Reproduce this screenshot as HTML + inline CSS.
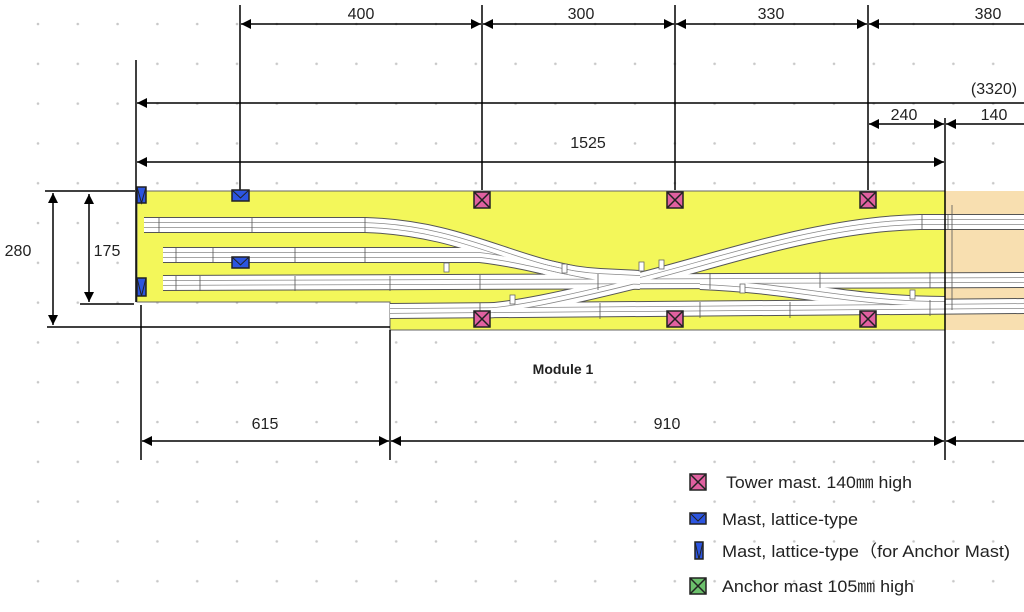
<!DOCTYPE html>
<html><head><meta charset="utf-8"><style>
html,body{margin:0;padding:0;background:#fff;}
svg{display:block;}
text{font-family:"Liberation Sans","Noto Sans CJK JP",sans-serif;fill:#222;}
</style></head><body>
<svg width="1024" height="612" viewBox="0 0 1024 612" xmlns="http://www.w3.org/2000/svg">
<defs>
<pattern id="dots" x="38" y="24" width="39.8" height="39.8" patternUnits="userSpaceOnUse">
<circle cx="0" cy="0" r="1.3" fill="#c8c8c8"/><circle cx="39.8" cy="0" r="1.3" fill="#c8c8c8"/><circle cx="0" cy="39.8" r="1.3" fill="#c8c8c8"/><circle cx="39.8" cy="39.8" r="1.3" fill="#c8c8c8"/>
</pattern>
<marker id="ah" viewBox="0 0 10 10" refX="10" refY="5" markerWidth="10" markerHeight="10" orient="auto-start-reverse" markerUnits="userSpaceOnUse"><path d="M0,0 L10,5 L0,10 z" fill="#000"/></marker>
</defs>
<rect width="1024" height="612" fill="#fff"/>
<rect width="1024" height="612" fill="url(#dots)"/>

<!-- board -->
<path d="M137,191 L945,191 L945,330 L390,330 L390,302 L137,302 Z" fill="#f3f75a" stroke="#666" stroke-width="1"/>
<rect x="945" y="191" width="79" height="139" fill="#f8dfb0"/>

<!-- tracks -->
<g fill="none" stroke-linecap="butt">
<g stroke="#555" stroke-width="16">
<path d="M144,225 L365,225 C470,228 520,272 600,276 L640,278"/>
<path d="M163,255 L365,255 L480,255 C540,262 580,280 640,282"/>
<path d="M163,283 L1024,280"/>
<path d="M390,311 L1024,306"/>
<path d="M1024,222 L920,222 C820,224 720,260 640,280 C560,300 510,310 480,311"/>
<path d="M700,282 C800,286 840,303 945,304"/>
</g>
<g stroke="#fff" stroke-width="14">
<path d="M144,225 L365,225 C470,228 520,272 600,276 L640,278"/>
<path d="M163,255 L365,255 L480,255 C540,262 580,280 640,282"/>
<path d="M163,283 L1024,280"/>
<path d="M390,311 L1024,306"/>
<path d="M1024,222 L920,222 C820,224 720,260 640,280 C560,300 510,310 480,311"/>
<path d="M700,282 C800,286 840,303 945,304"/>
</g>
<g stroke="#888" stroke-width="5.5">
<path d="M144,225 L365,225 C470,228 520,272 600,276 L640,278"/>
<path d="M163,255 L365,255 L480,255 C540,262 580,280 640,282"/>
<path d="M163,283 L1024,280"/>
<path d="M390,311 L1024,306"/>
<path d="M1024,222 L920,222 C820,224 720,260 640,280 C560,300 510,310 480,311"/>
<path d="M700,282 C800,286 840,303 945,304"/>
</g>
<g stroke="#fff" stroke-width="4">
<path d="M144,225 L365,225 C470,228 520,272 600,276 L640,278"/>
<path d="M163,255 L365,255 L480,255 C540,262 580,280 640,282"/>
<path d="M163,283 L1024,280"/>
<path d="M390,311 L1024,306"/>
<path d="M1024,222 L920,222 C820,224 720,260 640,280 C560,300 510,310 480,311"/>
<path d="M700,282 C800,286 840,303 945,304"/>
</g>
<g stroke="#555" stroke-width="0.8">
<path d="M159,218V233M252,218V233M365,218V233M176,248V263M213,248V263M295,248V263M365,248V263M176,276V291M200,276V291M295,276V291M390,276V291M480,275V290M598,274V290M710,273V289M820,272V288M930,272V288M480,303V319M600,303V319M700,302V318M790,302V318M930,300V316M922,215V230M948,215V230M952,205V310"/>
</g>
</g>
<g fill="#fff" stroke="#666" stroke-width="0.8">
<rect x="444" y="263" width="5" height="9"/><rect x="562" y="264" width="5" height="9"/><rect x="639" y="262" width="5" height="9"/><rect x="659" y="260" width="5" height="9"/><rect x="510" y="295" width="5" height="9"/><rect x="740" y="284" width="5" height="9"/><rect x="910" y="290" width="5" height="9"/>
</g>

<!-- dimension lines -->
<g stroke="#000" stroke-width="1.5" fill="none">
<path d="M240,5V190M482,5V190M675,5V190M868,5V190M136,60V302M945,118V460M141,305V460M390,330V460"/>
<path d="M45,191H135M80,304H134M47,327H390"/>
<path d="M241,24H481" marker-start="url(#ah)" marker-end="url(#ah)"/>
<path d="M483,24H674" marker-start="url(#ah)" marker-end="url(#ah)"/>
<path d="M676,24H867" marker-start="url(#ah)" marker-end="url(#ah)"/>
<path d="M869,24H1024" marker-start="url(#ah)"/>
<path d="M1024,103H137" marker-end="url(#ah)"/>
<path d="M869,124H944" marker-start="url(#ah)" marker-end="url(#ah)"/>
<path d="M946,124H1024" marker-start="url(#ah)"/>
<path d="M137,162H944" marker-start="url(#ah)" marker-end="url(#ah)"/>
<path d="M53,193V325" marker-start="url(#ah)" marker-end="url(#ah)"/>
<path d="M89,194V302" marker-start="url(#ah)" marker-end="url(#ah)"/>
<path d="M142,441H389" marker-start="url(#ah)" marker-end="url(#ah)"/>
<path d="M391,441H944" marker-start="url(#ah)" marker-end="url(#ah)"/>
<path d="M946,441H1024" marker-start="url(#ah)"/>
</g>
<g font-size="16" text-anchor="middle">
<text x="361" y="19">400</text><text x="581" y="19">300</text><text x="771" y="19">330</text><text x="988" y="19">380</text>
<text x="994" y="94">(3320)</text>
<text x="904" y="120">240</text><text x="994" y="120">140</text>
<text x="588" y="148">1525</text>
<text x="18" y="256">280</text><text x="107" y="256">175</text>
<text x="265" y="429">615</text><text x="667" y="429">910</text>
<text x="563" y="374" font-weight="bold" font-size="14">Module 1</text>
</g>

<!-- masts -->
<g stroke="#222" stroke-width="1.5">
<g fill="#e060a0">
<rect x="474" y="192" width="16" height="16"/><rect x="667" y="192" width="16" height="16"/><rect x="860" y="192" width="16" height="16"/>
<rect x="474" y="311" width="16" height="16"/><rect x="667" y="311" width="16" height="16"/><rect x="860" y="311" width="16" height="16"/>
<rect x="690" y="474" width="16" height="16"/>
</g>
<path d="M474,192l16,16m0,-16l-16,16M667,192l16,16m0,-16l-16,16M860,192l16,16m0,-16l-16,16M474,311l16,16m0,-16l-16,16M667,311l16,16m0,-16l-16,16M860,311l16,16m0,-16l-16,16M690,474l16,16m0,-16l-16,16" fill="none"/>
<g fill="#2c55e0">
<rect x="232" y="190" width="17" height="11"/><rect x="232" y="257" width="17" height="11"/><rect x="690" y="513" width="16" height="11"/>
<rect x="137" y="187" width="9" height="16"/><rect x="137" y="278" width="9" height="18"/><rect x="695" y="542" width="8" height="17"/>
</g>
<path d="M232,190l8.5,8l8.5,-8M232,257l8.5,8l8.5,-8M690,513l8,8l8,-8M137,187l4.5,16l4.5,-16M137,278l4.5,18l4.5,-18M695,542l4,17l4,-17" fill="none" stroke-width="1"/>
<rect x="690" y="578" width="16" height="16" fill="#6cc06c"/>
<path d="M690,578l16,16m0,-16l-16,16" fill="none"/>
</g>
<g font-size="17">
<text x="726" y="488" textLength="186" lengthAdjust="spacingAndGlyphs">Tower mast. 140㎜ high</text>
<text x="722" y="525" textLength="136" lengthAdjust="spacingAndGlyphs">Mast, lattice-type</text>
<text x="722" y="557" textLength="288" lengthAdjust="spacingAndGlyphs">Mast, lattice-type（for Anchor Mast)</text>
<text x="722" y="592" textLength="192" lengthAdjust="spacingAndGlyphs">Anchor mast 105㎜ high</text>
</g>
</svg>
</body></html>
